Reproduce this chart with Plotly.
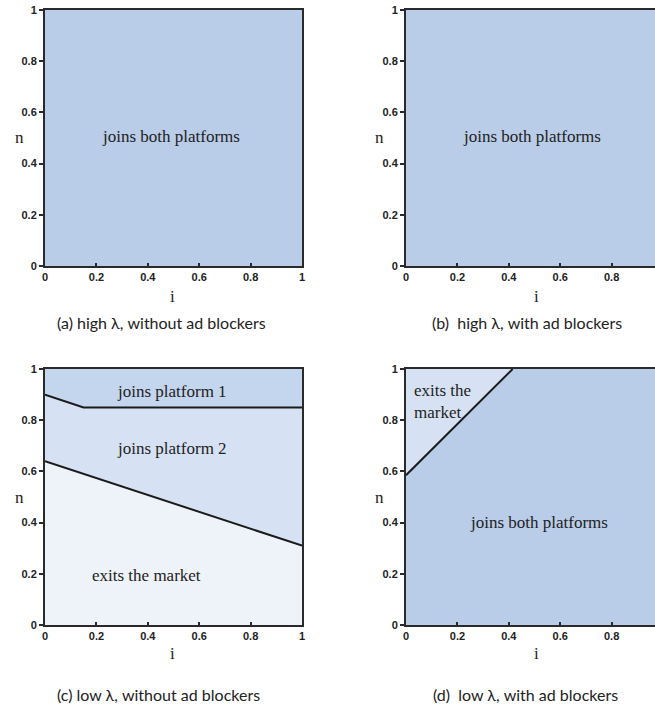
import plotly.graph_objects as go

# Tick values shared by every panel
tick_vals = [0, 0.2, 0.4, 0.6, 0.8, 1]
tick_text = ["0", "0.2", "0.4", "0.6", "0.8", "1"]

# Panel (c): regions for low lambda without ad blockers
c_upper_i = [0, 0.15, 1]
c_upper_n = [0.90, 0.85, 0.85]
c_lower_i = [0, 1]
c_lower_n = [0.64, 0.31]

# Panel (d): boundary for low lambda with ad blockers
d_line_i = [0, 0.415]
d_line_n = [0.585, 1]

# Region colours
both_col = "#B9CCE8"
p1_col = "#C4D5EE"
p2_col = "#D6E2F3"
exit_col = "#EEF2F9"
line_col = "#1a1a1a"
frame_col = "#2a2a2a"

W, H = 655, 704

# pixel boxes of the four panels: (left, right, top, bottom)
boxes = {
    "a": (45, 302, 10, 266),
    "b": (406, 655, 10, 266),
    "c": (45, 302, 369, 625),
    "d": (406, 655, 369, 625),
}
axis_ids = {"a": ("x", "y"), "b": ("x2", "y2"), "c": ("x3", "y3"), "d": ("x4", "y4")}

fig = go.Figure()


def poly(panel, xs, ys, color):
    xa, ya = axis_ids[panel]
    fig.add_trace(go.Scatter(x=xs, y=ys, fill="toself", fillcolor=color, mode="lines",
                             line=dict(width=0), xaxis=xa, yaxis=ya, hoverinfo="skip",
                             showlegend=False))


def line(panel, xs, ys):
    xa, ya = axis_ids[panel]
    fig.add_trace(go.Scatter(x=xs, y=ys, mode="lines", line=dict(color=line_col, width=2),
                             xaxis=xa, yaxis=ya, hoverinfo="skip", showlegend=False))


# (a) and (b): the whole square joins both platforms
poly("a", [0, 1, 1, 0], [0, 0, 1, 1], both_col)
poly("b", [0, 1, 1, 0], [0, 0, 1, 1], both_col)

# (c): three stacked regions
poly("c", [0, 1, 1, 0], [0, 0, 1, 1], exit_col)
poly("c", c_lower_i + c_upper_i[::-1], c_lower_n + c_upper_n[::-1], p2_col)
poly("c", c_upper_i + [1, 0], c_upper_n + [1, 1], p1_col)
line("c", c_upper_i, c_upper_n)
line("c", c_lower_i, c_lower_n)

# (d): exit triangle in the top-left corner
poly("d", [0, 1, 1, 0], [0, 0, 1, 1], both_col)
poly("d", d_line_i + [0], d_line_n + [1], p2_col)
line("d", d_line_i, d_line_n)

tick_font = dict(family="Liberation Sans", size=11, color="#222", weight="bold")

layout = dict(width=W, height=H,
              margin=dict(l=0, r=0, t=0, b=0, pad=0, autoexpand=False),
              paper_bgcolor="white", plot_bgcolor="white", showlegend=False)

for key, (l, r, t, b) in boxes.items():
    xa, ya = axis_ids[key]
    xname = "xaxis" + xa[1:]
    yname = "yaxis" + ya[1:]
    clipped = key in ("b", "d")
    xmax = (r - l) / (302 - 45) if clipped else 1
    layout[xname] = dict(domain=[l / W, r / W], range=[0, xmax], anchor=ya,
                         tickvals=tick_vals, ticktext=tick_text, ticks="inside", ticklen=3,
                         tickcolor=frame_col, tickwidth=1.5, automargin=False,
                         showline=True, linecolor=frame_col, linewidth=2,
                         mirror=True, showgrid=False, zeroline=False, tickfont=tick_font)
    layout[yname] = dict(domain=[(H - b) / H, (H - t) / H], range=[0, 1], anchor=xa,
                         tickvals=tick_vals, ticktext=tick_text, ticks="outside", ticklen=4,
                         tickcolor=frame_col, tickwidth=1.5, automargin=False,
                         showline=True, linecolor=frame_col, linewidth=2,
                         mirror=not clipped, showgrid=False, zeroline=False,
                         tickfont=tick_font)

fig.update_layout(**layout)

serif = dict(family="Liberation Serif", size=17, color="#222")
serif_ax = dict(family="Liberation Serif", size=17, color="#222")
cap_font = dict(family="Lato", size=16, color="#222")

ann = []


def region_label(panel, x, y, text, xanchor="center", align="center"):
    xa, ya = axis_ids[panel]
    ann.append(dict(x=x, y=y, xref=xa, yref=ya, text=text, showarrow=False,
                    font=serif, xanchor=xanchor, align=align))


region_label("a", 0.49, 0.505, "joins both platforms")
region_label("b", 0.49, 0.505, "joins both platforms")
region_label("c", 0.494, 0.911, "joins platform 1")
region_label("c", 0.494, 0.69, "joins platform 2")
region_label("c", 0.394, 0.193, "exits the market")
region_label("d", 0.517, 0.40, "joins both platforms")
region_label("d", 0.025, 0.872, "exits the<br>market", xanchor="left", align="left")


def paper_text(px, py, text, font):
    ann.append(dict(x=px / W, y=1 - py / H, xref="paper", yref="paper", text=text,
                    showarrow=False, font=font, xanchor="center", yanchor="middle"))


# axis titles
paper_text(19, 137, "n", serif_ax)
paper_text(379, 137, "n", serif_ax)
paper_text(19, 497, "n", serif_ax)
paper_text(379, 497, "n", serif_ax)
paper_text(173, 296, "i", serif_ax)
paper_text(536, 296, "i", serif_ax)
paper_text(173, 653, "i", serif_ax)
paper_text(536, 653, "i", serif_ax)

# panel captions
paper_text(161, 323, "(a) high λ, without ad blockers", cap_font)
paper_text(527, 323, "(b)  high λ, with ad blockers", cap_font)
paper_text(158, 694, "(c) low λ, without ad blockers", cap_font)
paper_text(525, 694, "(d)  low λ, with ad blockers", cap_font)

fig.update_layout(annotations=ann)
fig.write_html("out.html")
